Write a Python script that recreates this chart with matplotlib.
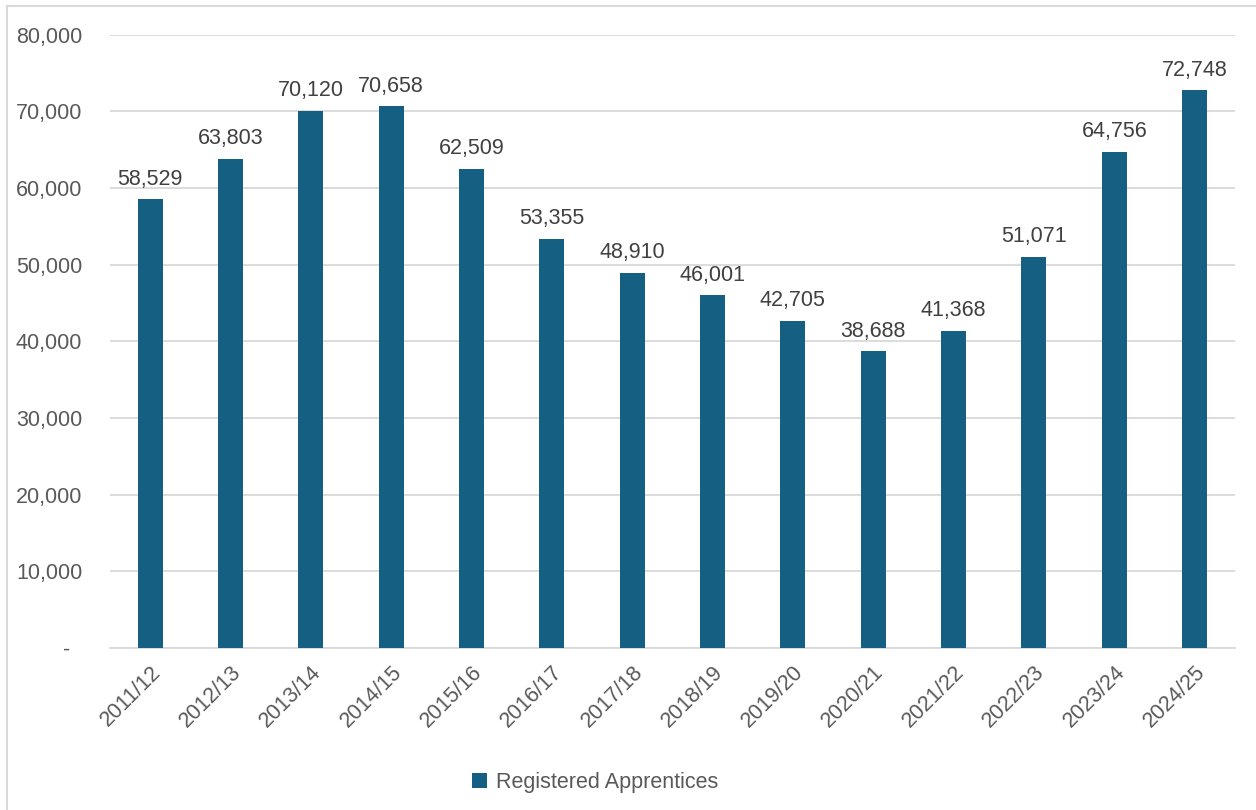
import matplotlib
matplotlib.use("Agg")
import matplotlib.pyplot as plt
from matplotlib.patches import Rectangle
from matplotlib.ticker import FuncFormatter, MultipleLocator

years = ["2011/12", "2012/13", "2013/14", "2014/15", "2015/16", "2016/17", "2017/18",
         "2018/19", "2019/20", "2020/21", "2021/22", "2022/23", "2023/24", "2024/25"]
apprentices = [58529, 63803, 70120, 70658, 62509, 53355, 48910,
               46001, 42705, 38688, 41368, 51071, 64756, 72748]
series_name = "Registered Apprentices"

plt.rcParams['font.family'] = ['Liberation Sans', 'DejaVu Sans']

bar_color = "#155F83"
fs = 15.5
fig = plt.figure(figsize=(12.56, 8.10), dpi=100)
ax = fig.add_axes([0.0876, 0.2, 0.8955, 0.757])

x = list(range(len(years)))
bars = ax.bar(x, apprentices, width=0.31, color=bar_color, label=series_name, zorder=3)
for xi, v in zip(x, apprentices):
    ax.annotate(f"{v:,}", (xi, v), xytext=(0, 7), textcoords="offset points",
                ha="center", va="bottom", fontsize=fs, color="#404040")

ax.set_xlim(-0.5, len(years) - 0.5)
ax.set_ylim(0, 80000)
ax.yaxis.set_major_locator(MultipleLocator(10000))
ax.yaxis.set_major_formatter(FuncFormatter(lambda v, p: "-  " if v == 0 else f"{int(v):,}"))
ax.set_xticks(x)
ax.set_xticklabels(years, rotation=45, ha="right", rotation_mode="anchor")
ax.tick_params(axis="both", length=0, labelsize=fs, labelcolor="#595959")
ax.tick_params(axis="y", pad=20)
ax.tick_params(axis="x", pad=10)
ax.grid(axis="y", color="#D9D9D9", linewidth=1.3, zorder=0)
for s in ["top", "right", "left"]:
    ax.spines[s].set_visible(False)
ax.spines["bottom"].set_color("#D9D9D9")
ax.spines["bottom"].set_linewidth(1.3)

fig.legend(handles=[bars], labels=[series_name], loc="center", bbox_to_anchor=(0.474, 0.034),
           frameon=False, fontsize=fs, handlelength=0.7, handleheight=0.7, handletextpad=0.4,
           labelcolor="#595959")

fig.patches.append(Rectangle((7/1256, -0.01), 1.1, 1 - 6/810 + 0.01, transform=fig.transFigure,
                             fill=False, edgecolor="#D9D9D9", linewidth=1.5))

fig.savefig("out.png", dpi=100)
